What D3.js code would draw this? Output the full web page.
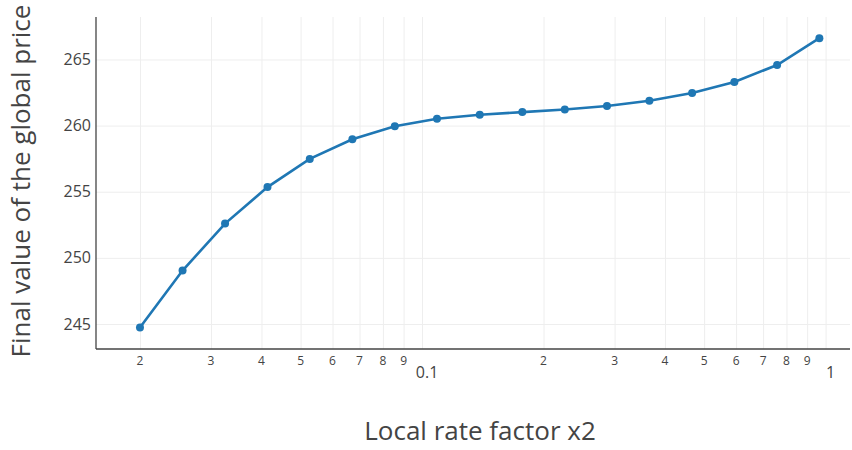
<!DOCTYPE html>
<html>
<head>
<meta charset="utf-8">
<script src="https://cdn.jsdelivr.net/npm/d3@7"></script>
<style>
  body { margin: 0; background: #fff; }
  text { font-family: "Open Sans", sans-serif; fill: #444; }
  .grid line { stroke: #eee; stroke-width: 1; }
  .grid path { display: none; }
</style>
</head>
<body>
<div id="chart"></div>
<script>
// values
var rateFactor = [0.0200, 0.0255, 0.0325, 0.0414, 0.0527, 0.0672, 0.0856, 0.1089, 0.1390,
                  0.1772, 0.2258, 0.2873, 0.3659, 0.4669, 0.5942, 0.7583, 0.9651];
var globalPrice = [244.73, 249.04, 252.59, 255.35, 257.48, 258.97, 259.95, 260.52, 260.82,
                   261.02, 261.22, 261.48, 261.88, 262.47, 263.30, 264.58, 266.61];
var yTicks = [245, 250, 255, 260, 265];
var xMajor = [0.1, 1];
var xMinor = [0.02, 0.03, 0.04, 0.05, 0.06, 0.07, 0.08, 0.09,
              0.2, 0.3, 0.4, 0.5, 0.6, 0.7, 0.8, 0.9];

var data = rateFactor.map(function(d, i) { return {x: d, y: globalPrice[i]}; });

// set the dimensions and margins of the graph
var margin = {top: 17, right: 2, bottom: 101, left: 96},
    width = 852 - margin.left - margin.right,
    height = 450 - margin.top - margin.bottom;

var x = d3.scaleLog()
    .domain([0.015562, 1.1494])
    .range([0, width]);
var y = d3.scaleLinear()
    .domain([243.11, 268.21])
    .range([height, 0]);

var svg = d3.select("#chart").append("svg")
    .attr("width", 852)
    .attr("height", 450)
  .append("g")
    .attr("transform", "translate(" + margin.left + "," + margin.top + ")");

// gridlines
svg.append("g")
    .attr("class", "grid")
    .attr("transform", "translate(0," + height + ")")
    .call(d3.axisBottom(x)
        .tickValues(xMinor.concat(xMajor))
        .tickSize(-height)
        .tickFormat(""));

svg.append("g")
    .attr("class", "grid")
    .call(d3.axisLeft(y)
        .tickValues(yTicks)
        .tickSize(-width)
        .tickFormat(""));

// axis lines
svg.append("line")
    .attr("x1", 0).attr("x2", width)
    .attr("y1", height).attr("y2", height)
    .attr("stroke", "#444").attr("stroke-width", 1.3);
svg.append("line")
    .attr("x1", 0).attr("x2", 0)
    .attr("y1", 0).attr("y2", height)
    .attr("stroke", "#444").attr("stroke-width", 1.3);

// y tick labels
svg.selectAll(".ylab")
    .data(yTicks)
  .enter().append("text")
    .attr("class", "ylab")
    .attr("x", -5)
    .attr("y", function(d) { return y(d); })
    .attr("dy", "0.35em")
    .attr("text-anchor", "end")
    .style("font-size", "16px")
    .text(function(d) { return d; });

// x tick labels: minor digits small, decades larger
svg.selectAll(".xminor")
    .data(xMinor)
  .enter().append("text")
    .attr("class", "xminor")
    .attr("x", function(d) { return x(d); })
    .attr("y", height + 16)
    .attr("text-anchor", "middle")
    .style("font-size", "12px")
    .text(function(d) { return Math.round(d / Math.pow(10, Math.floor(Math.log10(d) + 1e-9))); });

svg.selectAll(".xmajor")
    .data(xMajor)
  .enter().append("text")
    .attr("class", "xmajor")
    .attr("x", function(d) { return x(d) + 5; })
    .attr("y", height + 29)
    .attr("text-anchor", "middle")
    .style("font-size", "16px")
    .text(function(d) { return d; });

// line and markers
var line = d3.line()
    .x(function(d) { return x(d.x); })
    .y(function(d) { return y(d.y); });

svg.append("path")
    .datum(data)
    .attr("fill", "none")
    .attr("stroke", "#1f77b4")
    .attr("stroke-width", 2.6)
    .attr("d", line);

svg.selectAll(".dot")
    .data(data)
  .enter().append("circle")
    .attr("class", "dot")
    .attr("cx", function(d) { return x(d.x); })
    .attr("cy", function(d) { return y(d.y); })
    .attr("r", 4)
    .attr("fill", "#1f77b4");

// axis titles
svg.append("text")
    .attr("text-anchor", "middle")
    .attr("x", 384)
    .attr("y", height + 91)
    .style("font-size", "26px")
    .text("Local rate factor x2");

svg.append("text")
    .attr("text-anchor", "middle")
    .attr("transform", "rotate(-90)")
    .attr("x", -164)
    .attr("y", -66)
    .style("font-size", "26px")
    .text("Final value of the global price");
</script>
</body>
</html>
